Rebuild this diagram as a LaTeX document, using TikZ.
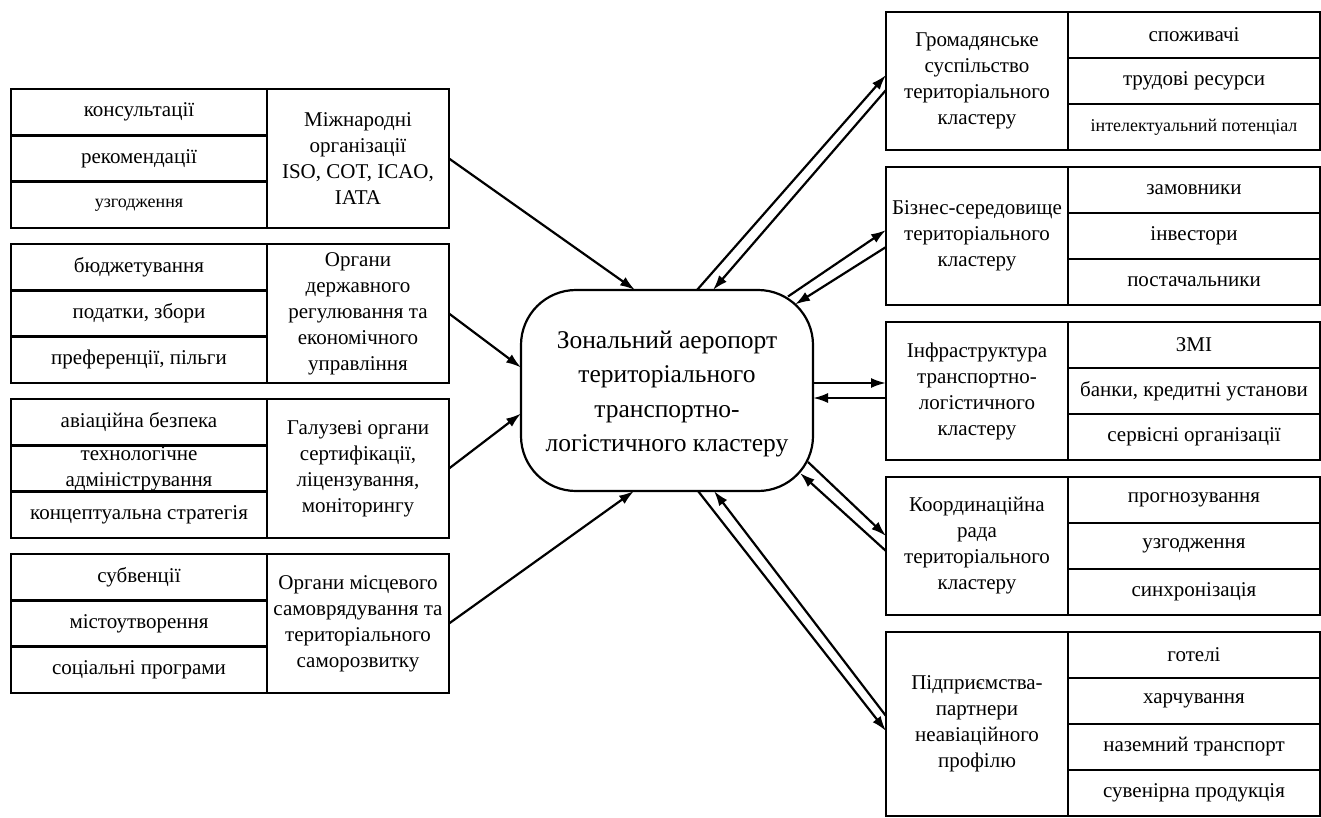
\documentclass[tikz,border=0pt]{standalone}
\usepackage{fontspec}
\setmainfont{Liberation Serif}
\usetikzlibrary{arrows.meta,calc}
\tikzset{
  cell/.style={draw, line width=2.6pt, inner sep=1pt, outer sep=0pt, align=center},
  ttl/.style={cell, minimum width=182pt, font=\fontsize{21}{26}\selectfont},
  itm/.style={cell, minimum height=46.33pt, font=\fontsize{21}{26}\selectfont},
  central/.style={draw, line width=2.2pt, outer sep=0pt, rounded corners=55pt, minimum width=292pt, minimum height=201pt, align=center, font=\fontsize{25.5}{34.5}\selectfont},
  arr/.style={line width=2.2pt, -{Latex[length=15pt,width=10pt]}},
}
\newcommand\LGroup[6]{%
  \node[ttl, minimum height=139pt] (#1) at (358,#2+69.5) {#3};
  \node[itm, minimum width=256pt] (#1a) at (139,#2+23.17) {#4};
  \node[itm, minimum width=256pt] (#1b) at (139,#2+69.5) {#5};
  \node[itm, minimum width=256pt] (#1c) at (139,#2+115.83) {#6};
}
\newcommand\RGroup[6]{%
  \node[ttl, minimum height=138pt] (#1) at (977,#2+69) {#3};
  \node[itm, minimum width=252pt, minimum height=46pt] (#1a) at (1194,#2+23) {#4};
  \node[itm, minimum width=252pt, minimum height=46pt] (#1b) at (1194,#2+69) {#5};
  \node[itm, minimum width=252pt, minimum height=46pt] (#1c) at (1194,#2+115) {#6};
}
\begin{document}
\begin{tikzpicture}[x=1pt,y=-1pt]
\useasboundingbox (0,0) rectangle (1321,817);
\fill[white] (0,0) rectangle (1321,817);

\LGroup{l1}{89}{Міжнародні\\організації\\ISO, COT, ICAO,\\IATA}{консультації}{рекомендації}{{\fontsize{18}{22}\selectfont узгодження}}
\LGroup{l2}{244}{Органи\\державного\\регулювання та\\економічного\\управління}{бюджетування}{податки, збори}{преференції, пільги}
\LGroup{l3}{399}{Галузеві органи\\сертифікації,\\ліцензування,\\моніторингу}{авіаційна безпека}{технологічне\\адміністрування}{концептуальна стратегія}
\LGroup{l4}{554}{Органи місцевого\\самоврядування та\\територіального\\саморозвитку}{субвенції}{містоутворення}{соціальні програми}

\RGroup{r1}{12}{Громадянське\\суспільство\\територіального\\кластеру}{споживачі}{трудові ресурси}{{\fontsize{18}{22}\selectfont інтелектуальний потенціал}}
\RGroup{r2}{167}{Бізнес-середовище\\територіального\\кластеру}{замовники}{інвестори}{постачальники}
\RGroup{r3}{322}{Інфраструктура\\транспортно-\\логістичного\\кластеру}{ЗМІ}{банки, кредитні установи}{сервісні організації}
\RGroup{r4}{477}{Координаційна\\рада\\територіального\\кластеру}{прогнозування}{узгодження}{синхронізація}

\node[ttl, minimum height=184pt] (r5) at (977,724) {Підприємства-\\партнери\\неавіаційного\\профілю};
\node[itm, minimum width=252pt, minimum height=46pt] (r5a) at (1194,655) {готелі};
\node[itm, minimum width=252pt, minimum height=46pt] (r5b) at (1194,701) {харчування};
\node[itm, minimum width=252pt, minimum height=46pt] (r5c) at (1194,747) {наземний транспорт};
\node[itm, minimum width=252pt, minimum height=46pt] (r5d) at (1194,793) {сувенірна продукція};

\node[central] (c) at (667,390.5) {};
\node[align=center, font=\fontsize{25.5}{34.5}\selectfont] (ct) at (667,394) {Зональний аеропорт\\територіального\\транспортно-\\логістичного кластеру};

% left inputs
\draw[arr] (l1.east) -- ($(c.north)+(-32,0)$);
\draw[arr] (l2.east) -- ($(c.west)+(0,-23)$);
\draw[arr] (l3.east) -- ($(c.west)+(0,23)$);
\draw[arr] (l4.east) -- ($(c.south)+(-33,0)$);

% right pairs
\draw[arr] ($(c.north)+(30,0)$) -- ($(r1.west)+(0,-6)$);
\draw[arr] ($(r1.west)+(0,9)$) -- ($(c.north)+(46,0)$);

\draw[arr] ($(c.center)+(121,-94)$) -- ($(r2.west)+(0,-6)$);
\draw[arr] ($(r2.west)+(0,11)$) -- ($(c.center)+(128,-86)$);

\coordinate (r3u) at ($(r3.west)+(0,-8)$);
\coordinate (r3d) at ($(r3.west)+(0,7)$);
\draw[arr] (c.east |- r3u) -- (r3u);
\draw[arr] (r3d) -- (c.east |- r3d);

\draw[arr] ($(c.center)+(141,71.5)$) -- ($(r4.west)+(0,-10)$);
\draw[arr] ($(r4.west)+(0,5)$) -- ($(c.center)+(133,82.5)$);

\draw[arr] ($(c.south)+(31,0)$) -- ($(r5.west)+(0,7)$);
\draw[arr] ($(r5.west)+(0,-8)$) -- ($(c.south)+(47,0)$);
\end{tikzpicture}
\end{document}
